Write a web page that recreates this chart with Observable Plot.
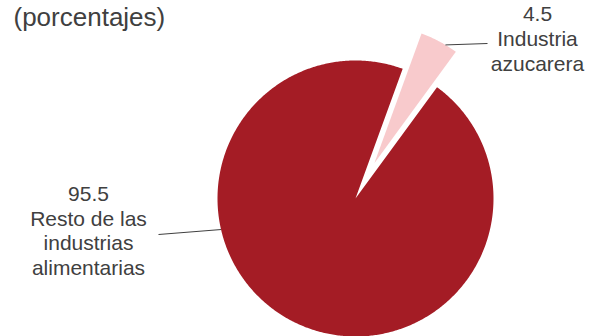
<!DOCTYPE html>
<html>
<head>
<meta charset="utf-8">
<script src="https://cdn.jsdelivr.net/npm/d3@7"></script>
<script src="https://cdn.jsdelivr.net/npm/@observablehq/plot@0.6"></script>
<style>
  html, body { margin: 0; padding: 0; background: #fff; }
  svg { display: block; }
</style>
</head>
<body>
<div id="chart"></div>
<script>
// ---- data ----
const categories = ["Industria azucarera", "Resto de las industrias alimentarias"];
const values = [4.5, 95.5];
const valueLabels = ["4.5", "95.5"];
const nameLabels = ["Industria\nazucarera", "Resto de las\nindustrias\nalimentarias"];
const title = "(porcentajes)";
const colors = ["#f8cacc", "#a41c25"];

// ---- layout (pixels) ----
const W = 589, H = 336;
const cx = 355, cy = 198, R = 138;
const startDeg = 20;
const explode = [40, 0];
const leaderAngleDeg = [31, 257];
const leaderEnd = [[487, 43], [158, 234]];
const labelCenter = [[537, 37.5], [88, 229.5]];

const rad = d => d * Math.PI / 180;
const pie = d3.pie().sort(null).startAngle(rad(startDeg)).endAngle(rad(startDeg) + 2 * Math.PI)(values);

const slices = pie.map((p, i) => {
  const mid = (p.startAngle + p.endAngle) / 2;
  const ox = cx + explode[i] * Math.sin(mid);
  const oy = cy - explode[i] * Math.cos(mid);
  const pts = [{x: ox, y: oy}];
  const n = Math.max(8, Math.ceil((p.endAngle - p.startAngle) / 0.01));
  for (let k = 0; k <= n; k++) {
    const a = p.startAngle + (p.endAngle - p.startAngle) * k / n;
    pts.push({x: ox + R * Math.sin(a), y: oy - R * Math.cos(a)});
  }
  pts.push({x: ox, y: oy});
  return {i, ox, oy, pts};
});

const leaders = slices.map((s, i) => {
  const a = rad(leaderAngleDeg[i]);
  return {x1: s.ox + R * Math.sin(a), y1: s.oy - R * Math.cos(a), x2: leaderEnd[i][0], y2: leaderEnd[i][1]};
});

const labels = categories.map((c, i) => ({
  x: labelCenter[i][0], y: labelCenter[i][1], text: valueLabels[i] + "\n" + nameLabels[i]
}));

const marks = [];
slices.forEach((s, i) => {
  marks.push(Plot.line(s.pts, {x: "x", y: "y", fill: colors[i], stroke: "none"}));
});
marks.push(Plot.link(leaders, {x1: "x1", y1: "y1", x2: "x2", y2: "y2", stroke: "#404040", strokeWidth: 1}));
marks.push(Plot.text(labels, {x: "x", y: "y", text: "text", fill: "#404040", fontSize: 21, lineHeight: 1.19, textAnchor: "middle"}));
marks.push(Plot.text([title], {x: 13, y: 17.5, text: d => d, fill: "#404040", fontSize: 26, textAnchor: "start"}));

const chart = Plot.plot({
  width: W, height: H,
  margin: 0,
  x: {type: "linear", domain: [0, W], range: [0, W], axis: null},
  y: {type: "linear", domain: [0, H], range: [0, H], axis: null},
  style: {fontFamily: "'Liberation Sans', Arial, sans-serif", background: "#fff"},
  marks
});
document.getElementById("chart").append(chart);
</script>
</body>
</html>
